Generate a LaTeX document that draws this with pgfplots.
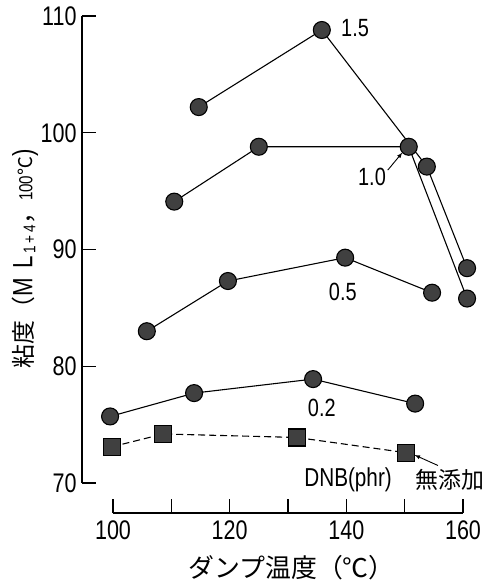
\documentclass[border=0pt]{standalone}
\usepackage{fontspec}
\setmainfont{Liberation Sans}[FakeStretch=0.8]
\newfontfamily\jp{Noto Sans CJK JP}
\usepackage{pgfplots}
\pgfplotsset{compat=1.18}

\begin{document}
\begin{tikzpicture}
\begin{axis}[
    scale only axis,
    width=350bp, height=467bp,
    xmin=100, xmax=160, ymin=70, ymax=110,
    axis x line=bottom, axis y line=left,
    axis line style={-, line width=1.1pt},
    x axis line style={yshift=-30bp},
    y axis line style={xshift=-31bp},
    tick align=inside,
    major tick length=14bp,
    every tick/.style={line width=1.1pt, black},
    xtick style={yshift=-30bp},
    ytick style={xshift=-31bp},
    xtick={100,110,...,160},
    xticklabels={100,,120,,140,,160},
    ytick={70,80,...,110},
    /pgf/number format/assume math mode=true,
    tick label style={font=\fontsize{27}{30}\selectfont},
    xticklabel style={yshift=-34bp},
    yticklabel style={xshift=-33bp},
    clip=false,
    every axis y label/.style={at={(axis description cs:0,0.48)}, rotate=90, anchor=center, yshift=88bp},
    every axis x label/.style={at={(axis description cs:0.51,0)}, anchor=center, yshift=-85bp},
    ylabel={{\jp\fontsize{24}{26}\selectfont 粘度（}{\fontsize{28}{30}\selectfont M\,\,L}\raisebox{-3bp}{\fontsize{17}{18}\selectfont\,1\,+\,4}{\jp\fontsize{24}{26}\selectfont ，}{\fontsize{19}{20}\selectfont 100}{\jp\fontsize{19}{20}\selectfont ℃}{\fontsize{28}{30}\selectfont )}},
    xlabel={\jp\fontsize{26}{28}\selectfont ダンプ温度（℃）},
    every axis plot/.style={black, line width=1.1pt},
]
% DNB 1.5 phr
\addplot[mark=*, mark size=8.5bp, mark options={fill=black!75, draw=black}] coordinates {
    (114.7,102.2) (135.8,108.8) (153.8,97.1) (160.7,88.4)
};
% DNB 1.0 phr
\addplot[mark=*, mark size=8.5bp, mark options={fill=black!75, draw=black}] coordinates {
    (110.5,94.1) (125.0,98.8) (150.7,98.8) (160.7,85.8)
};
% DNB 0.5 phr
\addplot[mark=*, mark size=8.5bp, mark options={fill=black!75, draw=black}] coordinates {
    (105.8,83.0) (119.7,87.3) (139.8,89.3) (154.7,86.3)
};
% DNB 0.2 phr
\addplot[mark=*, mark size=8.5bp, mark options={fill=black!75, draw=black}] coordinates {
    (99.5,75.7) (113.9,77.7) (134.3,78.9) (151.8,76.8)
};
% no additive
\addplot[dash pattern=on 7bp off 4bp, mark=square*, mark size=8.5bp, mark options={solid, fill=black!75, draw=black}] coordinates {
    (99.8,73.1) (108.6,74.2) (131.5,73.9) (150.2,72.6)
};

\node[font=\fontsize{25}{27}\selectfont] at (axis cs:141.5,109.0) {1.5};
\node[font=\fontsize{25}{27}\selectfont] at (axis cs:144.4,96.2) {1.0};
\draw[-latex, line width=0.9pt] (axis cs:147.1,96.8) -- (axis cs:149.6,98.3);
\node[font=\fontsize{25}{27}\selectfont] at (axis cs:139.4,86.4) {0.5};
\node[font=\fontsize{25}{27}\selectfont] at (axis cs:135.8,76.4) {0.2};
\node[font=\fontsize{26}{28}\selectfont] at (axis cs:140.3,70.3) {DNB(phr)};
\node[font=\jp\fontsize{23}{25}\selectfont] at (axis cs:157.8,70.3) {無添加};
\draw[-latex, line width=0.9pt] (axis cs:155.7,71.5) -- (axis cs:151.7,72.4);
\coordinate (bl) at (rel axis cs:0,0);
\coordinate (tr) at (rel axis cs:1,1);
\end{axis}
\pgfresetboundingbox
\path ([shift={(-113bp,-99bp)}]bl) rectangle ([shift={(26bp,16bp)}]tr);
\end{tikzpicture}
\end{document}
